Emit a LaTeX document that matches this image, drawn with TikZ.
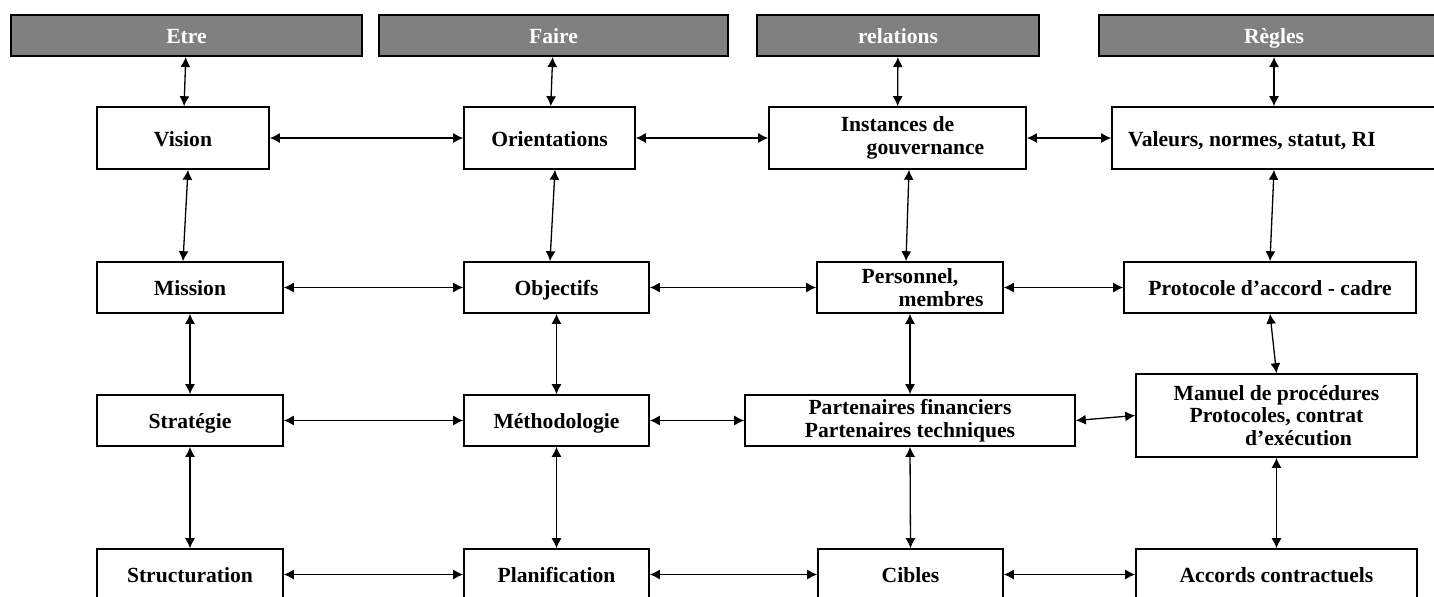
\documentclass[tikz,border=0pt]{standalone}
\usepackage{fontspec}
\setmainfont{Liberation Serif}
\usetikzlibrary{arrows.meta,calc}
\definecolor{headgray}{RGB}{128,128,128}

\begin{document}
\begin{tikzpicture}[
    x=0.5pt, y=-0.5pt,
    % define styles
    head/.style={
        draw,
        fill=headgray,
        line width=1pt,
        text=white,
        inner sep=0pt,
        minimum height=20.5pt,
        text height=8pt,
        text depth=0pt,
        font=\bfseries\fontsize{10.8}{11.3}\selectfont
    },
    box/.style={
        draw,
        line width=0.8pt,
        align=center,
        inner sep=0pt,
        minimum height=25.5pt,
        font=\bfseries\fontsize{10.8}{11.3}\selectfont
    },
    one/.style={
        text height=8.1pt,
        text depth=0pt
    },
    link/.style={
        {Latex[length=5pt,width=5pt]}-{Latex[length=5pt,width=5pt]},
        line width=0.65pt
    }
]
\useasboundingbox (0,0) rectangle (1434,596);
% Header bar
\node[head,minimum width=175.5pt] (etre) at (186.5,35.5) {Etre};
\node[head,minimum width=174.5pt] (faire) at (553.5,35.5) {Faire};
\node[head,minimum width=141pt] (relations) at (898,35.5) {relations};
\node[head,minimum width=175pt] (regles) at (1274,35.5) {Règles};
% First row
\node[box,one,minimum width=86pt,minimum height=31pt] (vision) at (183,138) {Vision};
\node[box,one,minimum width=85.5pt,minimum height=31pt] (orient) at (549.5,138) {Orientations};
\node[box,minimum width=128.5pt,minimum height=31pt] (instances) at (897.5,138) {Instances de\\ \hspace*{28pt}gouvernance};
\node[box,one,minimum width=162pt,minimum height=31pt] (valeurs) at (1274,138) {Valeurs, normes, statut, RI\hspace*{22pt}};
% Second row
\node[box,one,minimum width=93pt] (mission) at (190,287.5) {Mission};
\node[box,one,minimum width=92.5pt] (objectifs) at (556.5,287.5) {Objectifs};
\node[box,minimum width=93pt] (personnel) at (910,287.5) {Personnel,\\ \hspace*{31pt}membres};
\node[box,one,minimum width=146pt] (protocole) at (1270,287.5) {Protocole d’accord - cadre};
% Third row
\node[box,one,minimum width=93pt] (strategie) at (190,420.5) {Stratégie};
\node[box,one,minimum width=92.5pt] (methodo) at (556.5,420.5) {Méthodologie};
\node[box,minimum width=165pt] (partenaires) at (910,420.5) {Partenaires financiers\\ Partenaires techniques};
\node[box,minimum width=140.5pt,minimum height=41.5pt] (manuel) at (1276.5,415.5) {Manuel de procédures\\ Protocoles, contrat\\ \hspace*{22pt}d’exécution};
% Fourth row
\node[box,one,minimum width=93pt] (structuration) at (190,574.5) {Structuration};
\node[box,one,minimum width=92.5pt] (planif) at (556.5,574.5) {Planification};
\node[box,one,minimum width=92.5pt] (cibles) at (910.5,574.5) {Cibles};
\node[box,one,minimum width=140.5pt] (accords) at (1276.5,574.5) {Accords contractuels};

% Arrows from the header bar
\draw[link] (etre) -- (vision);
\draw[link] (faire) -- (orient);
\draw[link] (relations) -- (instances);
\draw[link] (regles) -- (valeurs);
% Horizontal arrows
\foreach \a/\b in {vision/orient,orient/instances,instances/valeurs,
                   mission/objectifs,objectifs/personnel,personnel/protocole,
                   strategie/methodo,methodo/partenaires,partenaires/manuel,
                   structuration/planif,planif/cibles,cibles/accords}
    \draw[link] (\a.east) -- (\b.west);
% Vertical arrows
\draw[link] ($(vision.south)+(5,0)$) -- ($(mission.north)+(-7,0)$);
\draw[link] ($(orient.south)+(5.5,0)$) -- ($(objectifs.north)+(-6.5,0)$);
\draw[link] ($(instances.south)+(11.5,0)$) -- ($(personnel.north)+(-4,0)$);
\draw[link] (valeurs.south) -- (protocole.north);
\foreach \a/\b in {mission/strategie,objectifs/methodo,personnel/partenaires,protocole/manuel,
                   strategie/structuration,methodo/planif,partenaires/cibles,manuel/accords}
    \draw[link] (\a.south) -- (\b.north);
\end{tikzpicture}
\end{document}
